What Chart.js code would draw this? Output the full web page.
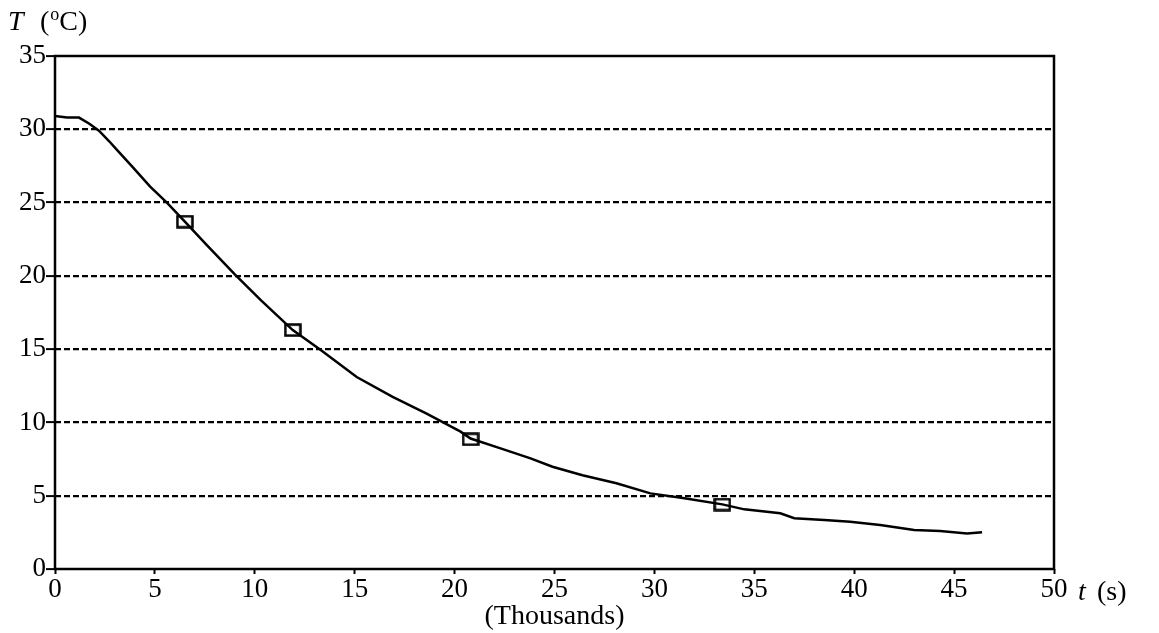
<!DOCTYPE html>
<html>
<head>
<meta charset="utf-8">
<script src="https://cdn.jsdelivr.net/npm/chart.js@4/dist/chart.umd.min.js"></script>
<style>
  html, body { margin: 0; padding: 0; background: #fff; }
  #wrap { width: 1159px; height: 633px; position: relative; }
</style>
</head>
<body>
<div id="wrap"><canvas id="c" width="1159" height="633"></canvas></div>
<script>
// Time in thousands of seconds, temperature in °C
const curveTime = [0, 0.6, 1.2, 1.7, 2.2, 2.7, 3.1, 3.9, 4.75, 5.6, 6.5, 7.6, 9.0, 10.3, 11.9, 13.3, 15.1, 16.9, 18.6, 20.3, 20.8, 22.3, 23.8, 24.9, 26.4, 28.1, 29.8, 31.5, 33.4, 34.5, 36.3, 37.0, 38.5, 39.8, 41.3, 43.0, 44.3, 45.65, 46.4];
const curveTemp = [30.9, 30.8, 30.8, 30.4, 29.9, 29.2, 28.6, 27.4, 26.1, 25.0, 23.7, 22.1, 20.1, 18.35, 16.3, 14.94, 13.1, 11.75, 10.6, 9.37, 8.9, 8.23, 7.55, 6.98, 6.4, 5.85, 5.16, 4.82, 4.41, 4.07, 3.80, 3.46, 3.34, 3.23, 3.0, 2.66, 2.59, 2.43, 2.5];
const markerTime = [6.5, 11.9, 20.8, 33.4];
const markerTemp = [23.7, 16.3, 8.85, 4.4];
const xTicks = [0, 5, 10, 15, 20, 25, 30, 35, 40, 45, 50];
const yTicks = [0, 5, 10, 15, 20, 25, 30, 35];

const SERIF = '"Liberation Serif", "Times New Roman", serif';

// hollow rectangular marker
const mk = document.createElement('canvas');
mk.width = 18; mk.height = 14;
{
  const g = mk.getContext('2d');
  g.strokeStyle = '#000';
  g.lineWidth = 2.5;
  g.strokeRect(1.5, 1.5, 15, 11);
}

const extras = {
  id: 'extras',
  beforeDatasetsDraw(chart) {
    const { ctx, chartArea: a } = chart;
    ctx.save();
    ctx.strokeStyle = '#000';
    ctx.lineWidth = 2.5;
    ctx.setLineDash([]);
    ctx.strokeRect(a.left, a.top, a.right - a.left, a.bottom - a.top);
    ctx.restore();
  },
  afterDraw(chart) {
    const { ctx, chartArea: a } = chart;
    ctx.save();
    ctx.fillStyle = '#000';
    ctx.textBaseline = 'alphabetic';
    ctx.textAlign = 'left';
    // y axis label: T (oC)
    ctx.font = 'italic 28px ' + SERIF;
    ctx.fillText('T', 8, 30);
    ctx.font = '28px ' + SERIF;
    ctx.fillText('(', 40, 30);
    let x = 40 + ctx.measureText('(').width + 1;
    ctx.font = '18px ' + SERIF;
    ctx.fillText('o', x, 20);
    x += ctx.measureText('o').width;
    ctx.font = '28px ' + SERIF;
    ctx.fillText('C)', x, 30);
    // x axis label: t (s)
    const base = 600;
    ctx.font = 'italic 28px ' + SERIF;
    ctx.fillText('t', a.right + 24, base);
    ctx.font = '28px ' + SERIF;
    ctx.fillText('(s)', a.right + 43, base);
    ctx.restore();
  }
};

new Chart(document.getElementById('c'), {
  type: 'line',
  data: {
    datasets: [
      {
        label: 'T',
        data: curveTime.map((t, i) => ({ x: t, y: curveTemp[i] })),
        borderColor: '#000',
        borderWidth: 2.5,
        pointRadius: 0,
        tension: 0,
        fill: false
      },
      {
        label: 'markers',
        data: markerTime.map((t, i) => ({ x: t, y: markerTemp[i] })),
        showLine: false,
        pointStyle: mk,
        pointRadius: 8,
        borderColor: '#000',
        backgroundColor: 'rgba(0,0,0,0)'
      }
    ]
  },
  options: {
    responsive: false,
    animation: false,
    events: [],
    layout: { padding: { left: 0, top: 56, right: 105, bottom: 0 } },
    plugins: { legend: { display: false }, tooltip: { enabled: false }, title: { display: false } },
    scales: {
      x: {
        type: 'linear',
        min: 0, max: 50,
        afterBuildTicks: s => { s.ticks = xTicks.map(v => ({ value: v })); },
        afterFit: s => { s.height = 64; },
        grid: {
          color: 'rgba(0,0,0,0)',
          drawOnChartArea: false,
          drawTicks: true,
          tickLength: 5,
          tickColor: '#000',
          tickWidth: 2
        },
        border: { display: false },
        ticks: {
          color: '#000',
          font: { family: SERIF, size: 27 },
          padding: 0,
          maxRotation: 0,
          autoSkip: false
        },
        title: {
          display: true,
          text: '(Thousands)',
          color: '#000',
          font: { family: SERIF, size: 28 },
          padding: { top: 0, bottom: 0 }
        }
      },
      y: {
        type: 'linear',
        min: 0, max: 35,
        afterBuildTicks: s => { s.ticks = yTicks.map(v => ({ value: v })); },
        afterFit: s => { s.width = 55; },
        grid: {
          color: ctx => (ctx.tick && (ctx.tick.value === 0 || ctx.tick.value === 35)) ? 'rgba(0,0,0,0)' : '#000',
          lineWidth: 2.2,
          drawTicks: true,
          tickLength: 9,
          tickColor: '#000',
          tickWidth: 2,
          tickBorderDash: []
        },
        border: { display: false, dash: [6, 3] },
        ticks: {
          color: '#000',
          font: { family: SERIF, size: 27 },
          padding: 0,
          autoSkip: false
        }
      }
    }
  },
  plugins: [extras]
});
</script>
</body>
</html>
